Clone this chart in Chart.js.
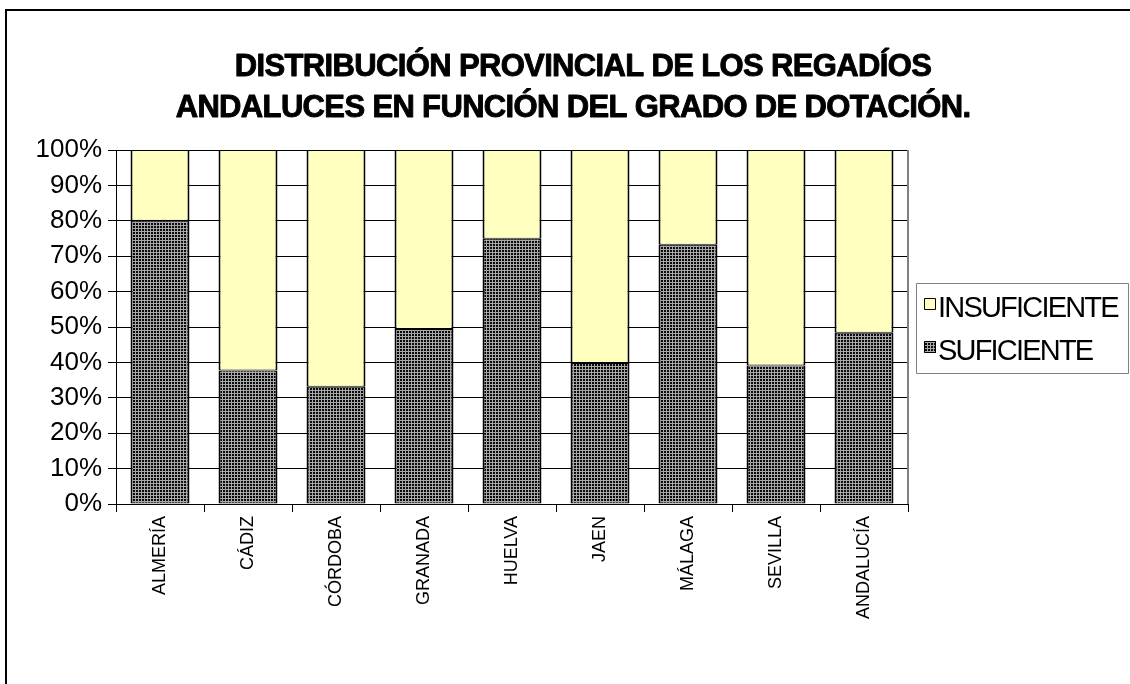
<!DOCTYPE html>
<html>
<head>
<meta charset="utf-8">
<script src="https://cdn.jsdelivr.net/npm/chart.js@4/dist/chart.umd.min.js"></script>
<style>
  html, body { margin: 0; padding: 0; background: #ffffff; }
  #wrap { width: 1130px; height: 684px; position: relative; }
</style>
</head>
<body>
<div id="wrap"><canvas id="c" width="1130" height="684"></canvas></div>
<script>
const titleLines = ['DISTRIBUCIÓN PROVINCIAL DE LOS REGADÍOS', 'ANDALUCES EN FUNCIÓN DEL GRADO DE DOTACIÓN.'];
const categories = ['ALMERÍA', 'CÁDIZ', 'CÓRDOBA', 'GRANADA', 'HUELVA', 'JAEN', 'MÁLAGA', 'SEVILLA', 'ANDALUCÍA'];
const seriesNames = ['SUFICIENTE', 'INSUFICIENTE'];
const suficiente = [80, 37.7, 33.1, 49.4, 74.9, 39.8, 73.2, 39.1, 48.4];
const insuficiente = [20, 62.3, 66.9, 50.6, 25.1, 60.2, 26.8, 60.9, 51.6];
const yTickSuffix = '%';

const FONT = "'Liberation Sans', Arial, sans-serif";
const YELLOW = '#FFFFC0';

// dark cross-hatch pattern
function makePattern() {
  const t = document.createElement('canvas');
  t.width = 3; t.height = 3;
  const g = t.getContext('2d');
  g.fillStyle = '#0a0a0a';
  g.fillRect(0, 0, 3, 3);
  g.fillStyle = '#a8a8a8';
  g.fillRect(0, 0, 3, 1);
  g.fillRect(0, 0, 1, 3);
  return g.createPattern(t, 'repeat');
}
const darkPattern = makePattern();

const framePlugin = {
  id: 'frame',
  afterDraw(chart) {
    const ctx = chart.ctx;
    const a = chart.chartArea;
    ctx.save();
    // outer frame (top and left visible)
    ctx.strokeStyle = '#000';
    ctx.lineWidth = 2;
    ctx.beginPath();
    ctx.moveTo(6, 700);
    ctx.lineTo(6, 10);
    ctx.lineTo(1140, 10);
    ctx.stroke();
    // right plot-area border
    ctx.strokeStyle = '#808080';
    ctx.lineWidth = 2;
    ctx.beginPath();
    ctx.moveTo(a.right, a.top);
    ctx.lineTo(a.right, a.bottom);
    ctx.stroke();
    // title
    ctx.fillStyle = '#000';
    ctx.strokeStyle = '#000';
    ctx.lineWidth = 0.9;
    ctx.lineJoin = 'round';
    ctx.font = 'bold 31px ' + FONT;
    ctx.textAlign = 'center';
    ctx.textBaseline = 'alphabetic';
    ctx.letterSpacing = '-0.65px';
    ctx.fillText(titleLines[0], 583, 76);
    ctx.strokeText(titleLines[0], 583, 76);
    ctx.fillText(titleLines[1], 573, 117);
    ctx.strokeText(titleLines[1], 573, 117);
    // legend
    ctx.letterSpacing = '0px';
    ctx.strokeStyle = '#808080';
    ctx.lineWidth = 1;
    ctx.strokeRect(916.5, 283.5, 212, 90);
    const items = [
      { name: seriesNames[1], fill: YELLOW, y: 298 },
      { name: seriesNames[0], fill: darkPattern, y: 341 }
    ];
    ctx.font = '29px ' + FONT;
    ctx.textAlign = 'left';
    ctx.letterSpacing = '-1.8px';
    for (const it of items) {
      ctx.fillStyle = it.fill;
      ctx.fillRect(924, it.y, 12, 12);
      ctx.strokeStyle = '#000';
      ctx.lineWidth = 1;
      ctx.strokeRect(924.5, it.y + 0.5, 11, 11);
      ctx.fillStyle = '#000';
      ctx.fillText(it.name, 938, it.y + 19);
    }
    ctx.restore();
  }
};

new Chart(document.getElementById('c'), {
  type: 'bar',
  data: {
    labels: categories,
    datasets: [
      {
        label: seriesNames[0],
        data: suficiente,
        backgroundColor: darkPattern,
        borderColor: '#000',
        borderWidth: { left: 2, right: 2, top: 1, bottom: 1 },
        borderSkipped: false,
        categoryPercentage: 1,
        barPercentage: 0.67
      },
      {
        label: seriesNames[1],
        data: insuficiente,
        backgroundColor: YELLOW,
        borderColor: '#000',
        borderWidth: { left: 2, right: 2, top: 1, bottom: 1 },
        borderSkipped: false,
        categoryPercentage: 1,
        barPercentage: 0.67
      }
    ]
  },
  options: {
    responsive: false,
    animation: false,
    devicePixelRatio: 1,
    layout: { padding: { left: 0, right: 222, top: 150, bottom: 0 } },
    plugins: {
      legend: { display: false },
      title: { display: false },
      tooltip: { enabled: false }
    },
    scales: {
      x: {
        stacked: true,
        afterFit(s) { s.height = 180; },
        grid: { display: true, drawOnChartArea: false, drawTicks: true, tickLength: 8, color: '#000', lineWidth: 1, offset: true },
        border: { display: true, color: '#000', width: 1 },
        ticks: {
          autoSkip: false, minRotation: 90, maxRotation: 90, padding: 4,
          color: '#000', font: { family: FONT, size: 18 }
        }
      },
      y: {
        stacked: true,
        min: 0, max: 100,
        afterFit(s) { s.width = 116; },
        grid: { display: true, drawOnChartArea: true, drawTicks: true, tickLength: 8, color: '#000', lineWidth: 1 },
        border: { display: true, color: '#000', width: 1 },
        ticks: {
          stepSize: 10, padding: 6, color: '#000',
          font: { family: FONT, size: 26 },
          callback: (v) => v + yTickSuffix
        }
      }
    }
  },
  plugins: [framePlugin]
});
</script>
</body>
</html>
